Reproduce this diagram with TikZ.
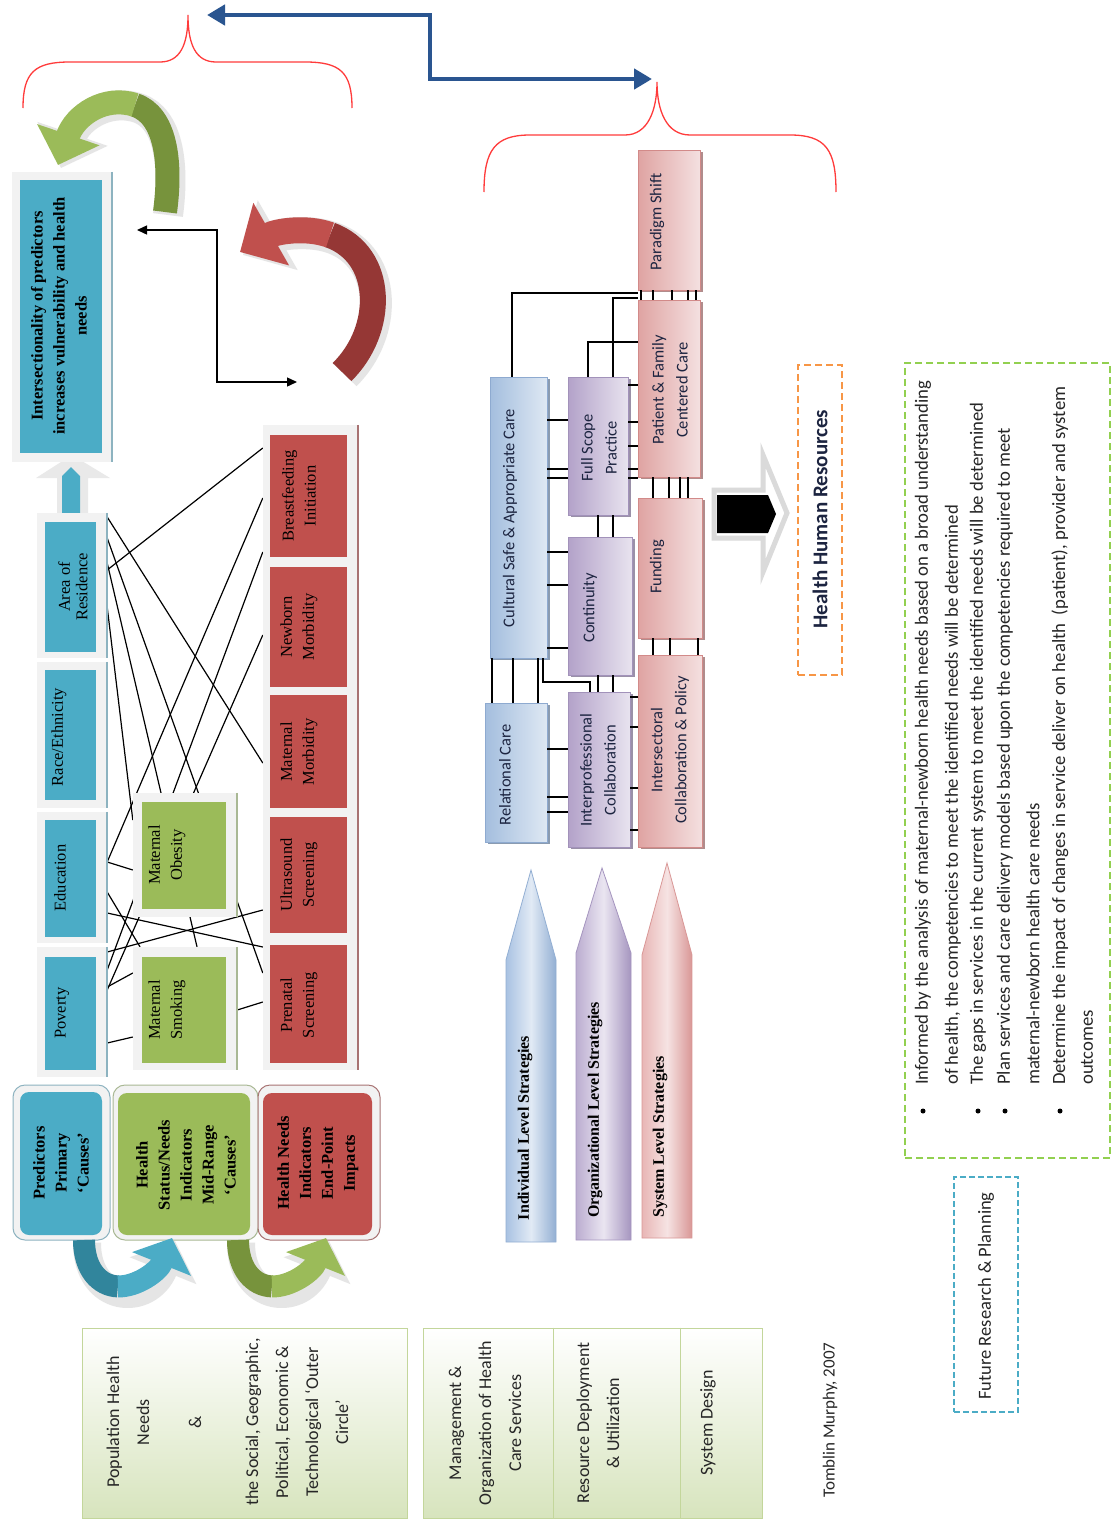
\documentclass[tikz,border=0pt]{standalone}
\usepackage{fontspec}
\setmainfont{Liberation Serif}
\newfontfamily\calfont{Carlito}
\usetikzlibrary{arrows.meta,calc,fit,shadows}
\pgfdeclarelayer{background}
\pgfsetlayers{background,main}
\definecolor{cTeal}{HTML}{4BACC6}
\definecolor{cTealD}{HTML}{31859C}
\definecolor{cTealE}{HTML}{8DB3C0}
\definecolor{cGreen}{HTML}{9BBB59}
\definecolor{cGreenD}{HTML}{77933C}
\definecolor{cGreenE}{HTML}{A9B894}
\definecolor{cRed}{HTML}{C0504D}
\definecolor{cRedD}{HTML}{953735}
\definecolor{cRedE}{HTML}{A87373}
\definecolor{cFrame}{HTML}{F2F2F2}
\definecolor{cBlue}{HTML}{2A5590}
\definecolor{cBrace}{HTML}{FF3B3B}
\definecolor{cPkA}{HTML}{DFA3A2}
\definecolor{cPkB}{HTML}{F4E0E0}
\definecolor{cPkL}{HTML}{D28A89}
\definecolor{cPkS}{HTML}{B08C8C}
\definecolor{cBlA}{HTML}{A4BEDE}
\definecolor{cBlB}{HTML}{DEE8F3}
\definecolor{cBlL}{HTML}{8EAAD0}
\definecolor{cBlS}{HTML}{8A9BB0}
\definecolor{cPuA}{HTML}{B3A2C9}
\definecolor{cPuB}{HTML}{E8E3EF}
\definecolor{cPuL}{HTML}{A292BA}
\definecolor{cPuS}{HTML}{9A90A8}
\definecolor{cSbA}{HTML}{A9C2E2}
\definecolor{cSbB}{HTML}{E1EAF5}
\definecolor{cSbC}{HTML}{93AFD3}
\definecolor{cSpA}{HTML}{BBADD0}
\definecolor{cSpB}{HTML}{EAE5F1}
\definecolor{cSpC}{HTML}{A595BF}
\definecolor{cSrA}{HTML}{E8B6B5}
\definecolor{cSrB}{HTML}{F6E3E3}
\definecolor{cSrC}{HTML}{D99796}
\definecolor{cGrL}{HTML}{DADADA}
\definecolor{cOrange}{HTML}{F79646}
\definecolor{cDash}{HTML}{92D050}
\definecolor{cPale}{HTML}{D7E4BD}
\definecolor{cPaleB}{HTML}{C3D69B}
\definecolor{cNavy}{HTML}{1C2440}
\definecolor{cText}{HTML}{262626}
\tikzset{
  fr/.style={fill=cFrame, inner sep=0pt},
  tfill/.style={fill=cTeal, inner sep=0pt},
  gfill/.style={fill=cGreen, inner sep=0pt},
  rfill/.style={fill=cRed, inner sep=0pt},
  lbl/.style={rotate=90, align=center, inner sep=0pt, font=\fontsize{16.5}{17.5}\selectfont},
  lblw/.style={rotate=90, align=center, inner sep=0pt, font=\fontsize{16.5}{22}\selectfont},
  blbl/.style={rotate=90, align=center, inner sep=0pt, font=\bfseries\fontsize{16.5}{22}\selectfont},
  stlbl/.style={rotate=90, inner sep=0pt, font=\bfseries\fontsize{16}{18}\selectfont},
  slbl/.style={rotate=90, align=center, inner sep=0pt, text=cNavy, font=\calfont\fontsize{16.5}{24}\selectfont},
  glbl/.style={rotate=90, align=center, inner sep=0pt, text=cText, font=\calfont\fontsize{18}{30}\selectfont},
  btxt/.style={rotate=90, anchor=west, inner sep=0pt, text=cText, font=\calfont\fontsize{18.7}{20}\selectfont},
  bdot/.style={circle, fill=black, inner sep=0pt, minimum size=5pt},
  pinkbox/.style={left color=cPkA, right color=cPkB, draw=cPkL, line width=0.6pt, inner sep=0pt,
    drop shadow={shadow xshift=3pt, shadow yshift=-2pt, fill=cPkS, opacity=1}},
  bluebox/.style={left color=cBlA, right color=cBlB, draw=cBlL, line width=0.6pt, inner sep=0pt,
    drop shadow={shadow xshift=3pt, shadow yshift=-2pt, fill=cBlS, opacity=1}},
  purbox/.style={left color=cPuA, right color=cPuB, draw=cPuL, line width=0.6pt, inner sep=0pt,
    drop shadow={shadow xshift=3pt, shadow yshift=-2pt, fill=cPuS, opacity=1}},
  con/.style={line width=1.3pt, black},
  spag/.style={line width=1.2pt, black},
  brace/.style={cBrace, line width=1.3pt},
  paleBox/.style={top color=white, bottom color=cPale, draw=cPaleB, line width=1pt, inner sep=0pt},
}
\begin{document}
\begin{tikzpicture}[x=1pt,y=-1pt]
\useasboundingbox (0,0) rectangle (1112,1520);
\begin{pgfonlayer}{background}
\fill[white] (0,0) rectangle (1112,1520);
\end{pgfonlayer}

% ---------- braces and blue arrow ----------
\draw[brace] (23,108) .. controls (23,72) and (35,62) .. (70,62) -- (160,62)
  .. controls (180,62) and (188,45) .. (188,15) .. controls (188,45) and (196,62) .. (216,62)
  -- (305,62) .. controls (340,62) and (352,72) .. (352,108);
\draw[brace] (484,192) .. controls (484,150) and (495,135) .. (530,135) -- (625,135)
  .. controls (648,135) and (657,110) .. (657,82) .. controls (657,110) and (666,135) .. (690,135)
  -- (790,135) .. controls (826,135) and (836,150) .. (836,192);
\coordinate (bl) at (207,15);
\coordinate (br) at (652,79);
\draw[cBlue, line width=4.5pt, line join=miter,
  {Triangle[length=18pt,width=20pt]}-{Triangle[length=18pt,width=20pt]}] (bl) -| (430,79) -- (br);

% ---------- intersectionality ----------
\fill[cGrL!60] (36,478) -- (72,455) -- (110,478) -- (88,478) -- (88,513) -- (57,513) -- (57,478) -- cycle;
\fill[cTeal] (62,513) -- (62,476) -- (71,467) -- (80,476) -- (80,513) -- cycle;
\node[fit={(12,172) (112,462)}, fr] (fIB) {};
\draw[cTealE, line width=1.5pt] (fIB.north east) -- (fIB.south east);
\node[fit={(20,180) (102,453)}, tfill] (bIB) {};
\node[blbl] (tIB) at (59,316) {Intersectionality of predictors\\increases vulnerability and health\\needs};

% ---------- curved arrows (top) ----------
\draw[line width=30pt, cGrL!70, -{Triangle[length=36pt,width=72pt]}, shift={(3,3)}]
  (165,212) .. controls (172,160) and (165,115) .. (135,105) .. controls (105,95) and (75,115) .. (58,165);
\draw[line width=24pt, cGreenD] (165,212) .. controls (172,160) and (165,115) .. (135,105);
\draw[line width=24pt, cGreen, -{Triangle[length=32pt,width=64pt]}] (135,105) .. controls (105,95) and (75,115) .. (58,165);

\draw[line width=32pt, cGrL!70, -{Triangle[length=40pt,width=78pt]}, shift={(3,3)}]
  (342,372) .. controls (385,330) and (385,255) .. (330,235) .. controls (305,226) and (275,232) .. (240,252);
\draw[line width=26pt, cRedD] (342,372) .. controls (385,330) and (385,255) .. (330,235);
\draw[line width=26pt, cRed, -{Triangle[length=36pt,width=70pt]}] (330,235) .. controls (305,226) and (275,232) .. (240,252);

\coordinate (ea) at (137,230);
\coordinate (eb) at (297,382);
\draw[line width=1.4pt, {Triangle[length=10pt,width=9pt]}-{Triangle[length=10pt,width=9pt]}] (ea) -| (217,382) -- (eb);

% ---------- predictor column ----------
\node[fit={(37,513) (107,658)}, fr] (fAR) {};
\node[fit={(37,662) (107,808)}, fr] (fRE) {};
\node[fit={(37,812) (107,943)}, fr] (fED) {};
\node[fit={(37,947) (107,1077)}, fr] (fPO) {};
\draw[cTealE, line width=1.5pt] (fAR.north east) -- (fAR.south east);
\draw[cTealE, line width=1.5pt] (fRE.north east) -- (fRE.south east);
\draw[cTealE, line width=1.5pt] (fED.north east) -- (fED.south east);
\draw[cTealE, line width=1.5pt] (fPO.north east) -- (fPO.south east);
\node[fit={(45,522) (96,652)}, tfill] (bAR) {};
\node[fit={(45,670) (96,800)}, tfill] (bRE) {};
\node[fit={(45,820) (96,937)}, tfill] (bED) {};
\node[fit={(45,957) (96,1070)}, tfill] (bPO) {};
\node[lbl] (tAR) at (73,587) {Area of\\Residence};
\node[lbl] (tRE) at (59,737) {Race/Ethnicity};
\node[lbl] (tED) at (60,878) {Education};
\node[lbl] (tPO) at (62,1013) {Poverty};

% ---------- green column ----------
\node[fit={(133,793) (237,917)}, fr] (fMO) {};
\node[fit={(133,947) (237,1070)}, fr] (fMS) {};
\draw[cGreenE, line width=1.5pt] (fMO.north east) -- (fMO.south east);
\draw[cGreenE, line width=1.5pt] (fMS.north east) -- (fMS.south east);
\node[fit={(142,802) (226,909)}, gfill] (bMO) {};
\node[fit={(142,957) (226,1063)}, gfill] (bMS) {};
\node[lblw] (tMO) at (167,855) {Maternal\\Obesity};
\node[lblw] (tMS) at (167,1010) {Maternal\\Smoking};

% ---------- red column ----------
\node[fit={(263,425) (358,562)}, fr] (fBI) {};
\node[fit={(263,562) (358,690)}, fr] (fNM) {};
\node[fit={(263,690) (358,810)}, fr] (fMM) {};
\node[fit={(263,810) (358,940)}, fr] (fUS) {};
\node[fit={(263,940) (358,1070)}, fr] (fPS) {};
\draw[cRedE, line width=1.5pt] (fBI.north east) -- (fPS.south east);
\node[fit={(270,435) (347,557)}, rfill] (bBI) {};
\node[fit={(270,567) (347,687)}, rfill] (bNM) {};
\node[fit={(270,695) (347,808)}, rfill] (bMM) {};
\node[fit={(270,817) (347,933)}, rfill] (bUS) {};
\node[fit={(270,945) (347,1063)}, rfill] (bPS) {};
\node[lblw] (tBI) at (299,496) {Breastfeeding\\Initiation};
\node[lblw] (tNM) at (299,627) {Newborn\\Morbidity};
\node[lblw] (tMM) at (299,752) {Maternal\\Morbidity};
\node[lblw] (tUS) at (299,875) {Ultrasound\\Screening};
\node[lblw] (tPS) at (299,1005) {Prenatal\\Screening};

% ---------- spaghetti connectors (behind) ----------
\begin{pgfonlayer}{background}
\draw[spag] (fAR.east |- 0,517) -- (fMM.west |- 0,763);
\draw[spag] (fAR.east |- 0,538) -- (fPS.west |- 0,973);
\draw[spag] (fAR.east |- 0,570) -- (fBI.west |- 0,448);
\draw[spag] (fAR.east |- 0,563) -- (fMS.north -| 197,0);
\draw[spag] (fAR.east |- 0,607) -- (fMO.west |- 0,820);
\draw[spag] (fBI.west |- 0,498) -- (fED.east |- 0,862);
\draw[spag] (fBI.west |- 0,552) -- (fPO.east |- 0,970);
\draw[spag] (fNM.west |- 0,635) -- (fPO.east |- 0,990);
\draw[spag] (fED.east |- 0,862) -- (fMO.west |- 0,870);
\draw[spag] (fED.east |- 0,892) -- (fMS.north -| 140,0);
\draw[spag] (fED.east |- 0,913) -- (fPS.west |- 0,947);
\draw[spag] (fPO.east |- 0,952) -- (fUS.west |- 0,910);
\draw[spag] (fPO.east |- 0,987) -- (fMS.west |- 0,973);
\draw[spag] (fPO.east |- 0,1043) -- (fMS.west |- 0,1037);
\draw[spag] (fMS.east |- 0,1010) -- (fPS.west |- 0,1002);
\end{pgfonlayer}

% ---------- bottom rounded boxes ----------
\node[fit={(13,1085) (110,1240)}, fill=cFrame, draw=cTealE, line width=1pt, rounded corners=12pt, inner sep=0pt] (fPR) {};
\node[fit={(113,1085) (258,1240)}, fill=cFrame, draw=cGreenE, line width=1pt, rounded corners=12pt, inner sep=0pt] (fHS) {};
\node[fit={(258,1085) (380,1240)}, fill=cFrame, draw=cRedE, line width=1pt, rounded corners=12pt, inner sep=0pt] (fHN) {};
\node[fit={(20,1092) (102,1235)}, fill=cTeal, rounded corners=9pt, inner sep=0pt] (bPR) {};
\node[fit={(118,1093) (250,1235)}, fill=cGreen, rounded corners=9pt, inner sep=0pt] (bHS) {};
\node[fit={(263,1093) (372,1235)}, fill=cRed, rounded corners=9pt, inner sep=0pt] (bHN) {};
\node[blbl] (tPR) at (61,1163) {Predictors\\Primary\\‘Causes’};
\node[blbl] (tHS) at (186,1165) {Health\\Status/Needs\\Indicators\\Mid-Range\\‘Causes’};
\node[blbl] (tHN) at (318,1163) {Health Needs\\Indicators\\End-Point\\Impacts};

% U arrows
\draw[line width=28pt, cGrL!70, -{Triangle[length=32pt,width=70pt]}, shift={(3,3)}]
  (84,1240) .. controls (84,1300) and (145,1305) .. (172,1238);
\draw[line width=22pt, cTealD] (84,1240) .. controls (84,1269) and (99.25,1285.75) .. (117.9,1286.4);
\draw[line width=22pt, cTeal, -{Triangle[length=28pt,width=62pt]}] (117.9,1286.4) .. controls (136.5,1287) and (158.5,1271.5) .. (172,1238);
\draw[line width=28pt, cGrL!70, -{Triangle[length=32pt,width=70pt]}, shift={(3,3)}]
  (238,1240) .. controls (238,1300) and (299,1305) .. (326,1238);
\draw[line width=22pt, cGreenD] (238,1240) .. controls (238,1269) and (253.25,1285.75) .. (271.9,1286.4);
\draw[line width=22pt, cGreen, -{Triangle[length=28pt,width=62pt]}] (271.9,1286.4) .. controls (290.5,1287) and (312.5,1271.5) .. (326,1238);

% ---------- bottom pale boxes ----------
\node[fit={(82,1328) (407,1518)}, paleBox] (pop) {};
\node[glbl] (tPop1) at (128,1422) {Population Health\\Needs};
\node[glbl] (tPop2) at (195,1422) {\&};
\node[glbl] (tPop3) at (297,1422) {the Social, Geographic,\\Political, Economic \&\\Technological ‘Outer\\Circle’};
\node[fit={(423,1328) (762,1518)}, paleBox] (mg) {};
\draw[cPaleB, line width=1pt] (mg.north -| 553,0) -- (mg.south -| 553,0);
\draw[cPaleB, line width=1pt] (mg.north -| 680,0) -- (mg.south -| 680,0);
\node[glbl] (tMg1) at (485,1423) {Management \&\\Organization of Health\\Care Services};
\node[glbl] (tMg2) at (598,1423) {Resource Deployment\\\& Utilization};
\node[glbl] (tMg3) at (708,1423) {System Design};
\node[glbl, font=\calfont\fontsize{17}{20}\selectfont] (tTM) at (830,1420) {Tomblin Murphy, 2007};

% ---------- right column boxes ----------
\node[fit={(638,150) (700,290)}, pinkbox] (par) {};
\node[fit={(638,300) (700,477)}, pinkbox] (pat) {};
\node[fit={(638,498) (702,638)}, pinkbox] (fun) {};
\node[fit={(638,655) (702,847)}, pinkbox] (isp) {};
\node[fit={(490,377) (547,658)}, bluebox] (cul) {};
\node[fit={(485,703) (547,842)}, bluebox] (rel) {};
\node[fit={(568,377) (628,515)}, purbox] (fsp) {};
\node[fit={(568,537) (632,675)}, purbox] (cty) {};
\node[fit={(568,692) (630,847)}, purbox] (ipc) {};
\node[slbl] (tPar) at (657,222) {Paradigm Shift};
\node[slbl] (tPat) at (670,390) {Patient \& Family\\Centered Care};
\node[slbl] (tFun) at (657,567) {Funding};
\node[slbl] (tIsp) at (670,750) {Intersectoral\\Collaboration \& Policy};
\node[slbl] (tCul) at (510,518) {Cultural Safe \& Appropriate Care};
\node[slbl] (tRel) at (505,775) {Relational Care};
\node[slbl] (tFsp) at (599,448) {Full Scope\\Practice};
\node[slbl] (tCty) at (590,608) {Continuity};
\node[slbl] (tIpc) at (598,770) {Interprofessional\\Collaboration};

% connectors right column
\foreach \yy in {420,469,478} \draw[con] (cul.east |- 0,\yy) -- (fsp.west |- 0,\yy);
\foreach \yy in {552,585,648} \draw[con] (cul.east |- 0,\yy) -- (cty.west |- 0,\yy);
\foreach \yy in {749,797,812} \draw[con] (rel.east |- 0,\yy) -- (ipc.west |- 0,\yy);
\foreach \yy in {385,422,446,469,478} \draw[con] (fsp.east |- 0,\yy) -- (pat.west |- 0,\yy);
\foreach \yy in {697,727,788,830} \draw[con] (ipc.east |- 0,\yy) -- (isp.west |- 0,\yy);
\foreach \xx in {641,653,672,688,696} \draw[con] (par.south -| \xx,0) -- (pat.north -| \xx,0);
\foreach \xx in {653,669,680,688} \draw[con] (pat.south -| \xx,0) -- (fun.north -| \xx,0);
\foreach \xx in {653,670,698} \draw[con] (fun.south -| \xx,0) -- (isp.north -| \xx,0);
\foreach \xx in {598,613} \draw[con] (fsp.south -| \xx,0) -- (cty.north -| \xx,0);
\foreach \xx in {598,613} \draw[con] (cty.south -| \xx,0) -- (ipc.north -| \xx,0);
\foreach \xx in {492,513,538} \draw[con] (cul.south -| \xx,0) -- (rel.north -| \xx,0);
\draw[con] (cul.south -| 543,0) -- (543,682) -- (590,682) -- (ipc.north -| 590,0);
\draw[con] (cul.north -| 512,0) |- (pat.north west |- 0,293);
\draw[con] (fsp.north -| 613,0) |- (pat.north west |- 0,298);
\draw[con] (fsp.north -| 588,0) |- (pat.west |- 0,342);

% ---------- strategy arrows ----------
\path[left color=cSbA, right color=cSbC, middle color=cSbB, draw=cSbC, line width=0.8pt]
  (506,1242) -- (506,960) -- (531,870) -- (556,960) -- (556,1242) -- cycle;
\path[left color=cSpA, right color=cSpC, middle color=cSpB, draw=cSpC, line width=0.8pt]
  (576,1240) -- (576,953) -- (602,868) -- (631,953) -- (631,1240) -- cycle;
\path[left color=cSrA, right color=cSrC, middle color=cSrB, draw=cSrC, line width=0.8pt]
  (642,1238) -- (642,955) -- (667,863) -- (692,955) -- (692,1238) -- cycle;
\node[stlbl] (tIS) at (525,1128) {Individual Level Strategies};
\node[stlbl] (tOS) at (595,1110) {Organizational Level Strategies};
\node[stlbl] (tSS) at (660,1137) {System Level Strategies};

% ---------- Health Human Resources ----------
\draw[line width=5pt, cGrL, fill=white, line join=miter]
  (714,490) -- (763,490) -- (763,455) -- (787,513) -- (763,572) -- (763,538) -- (714,538) -- cycle;
\fill[black] (717,495) -- (768,495) -- (776,514) -- (768,533) -- (717,533) -- cycle;
\node[fit={(798,365) (842,675)}, draw=cOrange, dashed, dash pattern=on 7pt off 4pt, line width=1.5pt, inner sep=0pt] (hhr) {};
\node[rotate=90, inner sep=0pt, text=cNavy, font=\calfont\bfseries\fontsize{21}{24}\selectfont] (tHHR) at (hhr.center |- 0,519) {Health Human Resources};

% ---------- bullet box ----------
\node[fit={(905,363) (1110,1158)}, draw=cDash, dashed, dash pattern=on 7pt off 4pt, line width=1.2pt, inner sep=0pt] (bul) {};
\node[btxt] (b1) at (923,1085) {Informed by the analysis of maternal-newborn health needs based on a broad understanding};
\node[btxt] (b2) at (953,1085) {of health, the competencies to meet the identified needs will be determined};
\node[btxt] (b3) at (978,1085) {The gaps in services in the current system to meet the identified needs will be determined};
\node[btxt] (b4) at (1005,1085) {Plan services and care delivery models based upon the competencies required to meet};
\node[btxt] (b5) at (1033,1085) {maternal-newborn health care needs};
\node[btxt] (b6) at (1060,1085) {Determine the impact of changes in service deliver on health~ (patient), provider and system};
\node[btxt] (b7) at (1087,1085) {outcomes};
\node[bdot] (d1) at (923,1111) {};
\node[bdot] (d3) at (978,1111) {};
\node[bdot] (d4) at (1005,1111) {};
\node[bdot] (d6) at (1060,1111) {};

\node[fit={(954,1177) (1018,1412)}, draw=cTeal, dashed, dash pattern=on 6pt off 3pt, line width=1.2pt, inner sep=0pt] (fut) {};
\node[rotate=90, inner sep=0pt, text=cText, font=\calfont\fontsize{18.5}{20}\selectfont] (tFut) at (fut.center |- 0,1296) {Future Research \& Planning};
\end{tikzpicture}
\end{document}
